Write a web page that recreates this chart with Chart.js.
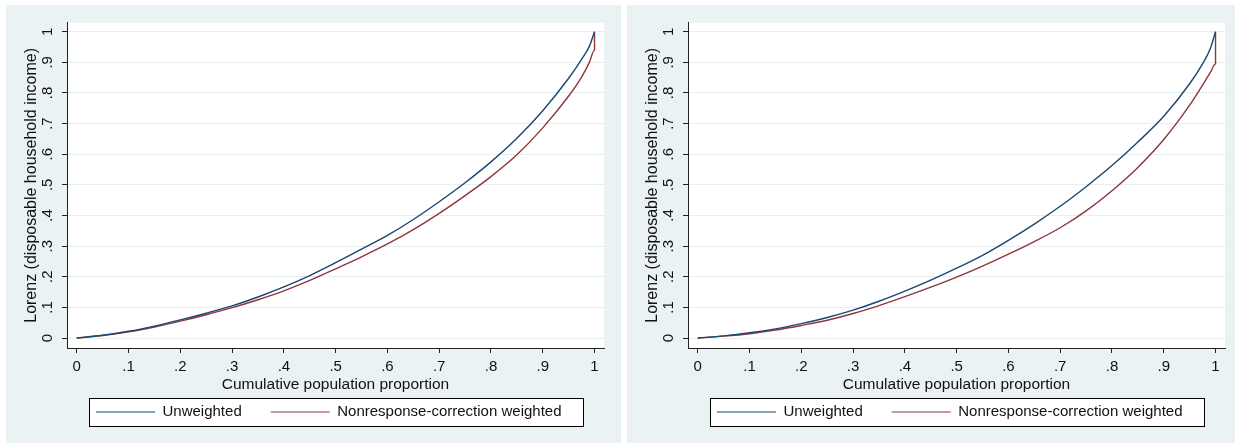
<!DOCTYPE html>
<html><head><meta charset="utf-8">
<script src="https://cdn.jsdelivr.net/npm/chart.js@4/dist/chart.umd.min.js"></script>
<style>
html,body{margin:0;padding:0;background:#fff;width:1235px;height:443px;overflow:hidden;}
.panel{position:absolute;top:5px;height:438px;background:#eaf2f3;}
#p1{left:6px;width:615px;}
#p2{left:627px;width:608px;}
canvas{display:block;}
</style></head><body>
<div class="panel" id="p1"><canvas id="c1" width="615" height="438"></canvas></div>
<div class="panel" id="p2"><canvas id="c2" width="608" height="438"></canvas></div>
<script>
// ---- data ----
const popShare = [0,0.05,0.1,0.15,0.2,0.25,0.3,0.35,0.4,0.45,0.5,0.55,0.6,0.65,0.7,0.75,0.8,0.85,0.9,0.95,0.975,0.99,1,1];
const leftUnweighted = [0,0.009,0.022,0.039,0.059,0.081,0.105,0.134,0.167,0.204,0.246,0.290,0.335,0.387,0.445,0.507,0.575,0.652,0.742,0.848,0.910,0.952,1,1];
const leftWeighted   = [0,0.008,0.020,0.036,0.055,0.076,0.099,0.125,0.154,0.188,0.226,0.265,0.307,0.354,0.407,0.465,0.527,0.598,0.686,0.790,0.852,0.900,0.940,1];
const rightUnweighted = [0,0.007,0.017,0.030,0.047,0.067,0.091,0.120,0.153,0.189,0.228,0.270,0.319,0.372,0.430,0.494,0.563,0.640,0.724,0.830,0.895,0.945,1,1];
const rightWeighted   = [0,0.006,0.014,0.026,0.041,0.058,0.080,0.106,0.135,0.166,0.199,0.235,0.274,0.315,0.360,0.415,0.481,0.557,0.648,0.760,0.826,0.867,0.895,1];
const seriesNames = ['Unweighted', 'Nonresponse-correction weighted'];
const tickValues = [0,0.1,0.2,0.3,0.4,0.5,0.6,0.7,0.8,0.9,1];
const tickLabels = ['0','.1','.2','.3','.4','.5','.6','.7','.8','.9','1'];
const xTitle = 'Cumulative population proportion';
const yTitle = 'Lorenz (disposable household income)';

// ---- styles ----
const BLUE = '#1a476f', RED = '#90353b', TXT = '#111', AXIS = '#222';
const FAM = "'Liberation Sans', Arial, sans-serif";
const LEG_PAD = 29;

function toPoints(xs, ys) {
  const pts = [];
  xs.forEach((x, i) => {
    const last = pts[pts.length - 1];
    if (last && last.x === x && last.y === ys[i]) return;
    pts.push({x: x, y: ys[i]});
  });
  return pts;
}

const plotBg = {
  id: 'plotBg',
  beforeDraw(chart) {
    const {ctx, chartArea: a} = chart;
    ctx.save();
    ctx.fillStyle = '#ffffff';
    ctx.fillRect(a.left, a.top, a.right - a.left, a.bottom - a.top);
    const lg = chart.legend;
    if (lg) {
      const cx = (a.left + a.right) / 2;
      const w = 494, h = 28;
      const y = Math.round(lg.top + LEG_PAD + 7.5 - h / 2) + 0.5;
      const x = Math.round(cx - w / 2) + 0.5;
      ctx.fillRect(x, y, w, h);
      ctx.strokeStyle = '#000';
      ctx.lineWidth = 1;
      ctx.strokeRect(x, y, w, h);
    }
    ctx.restore();
  }
};

function makeChart(id, blue, red, padRight) {
  const font = {family: FAM, size: 15};
  return new Chart(document.getElementById(id), {
    type: 'line',
    data: {
      datasets: [
        {label: seriesNames[0], data: toPoints(popShare, blue), borderColor: BLUE, backgroundColor: BLUE, borderWidth: 1.4, pointRadius: 0, fill: false, cubicInterpolationMode: 'monotone'},
        {label: seriesNames[1], data: toPoints(popShare, red), borderColor: RED, backgroundColor: RED, borderWidth: 1.4, pointRadius: 0, fill: false, cubicInterpolationMode: 'monotone'}
      ]
    },
    options: {
      responsive: false,
      animation: false,
      events: [],
      layout: {padding: {top: 17.7, right: padRight, bottom: 13.5, left: 0}},
      plugins: {
        tooltip: {enabled: false},
        legend: {
          display: true, position: 'bottom', fullSize: false, align: 'start',
          labels: {
            boxWidth: 59, boxHeight: 1, padding: LEG_PAD, color: TXT, font: font,
            generateLabels: (chart) => chart.data.datasets.map((d, i) => ({
              text: d.label, fillStyle: d.borderColor, strokeStyle: d.borderColor,
              lineWidth: 0, hidden: false, datasetIndex: i, fontColor: TXT
            }))
          }
        }
      },
      scales: {
        x: {
          type: 'linear', min: -0.0189, max: 1.0183,
          afterBuildTicks: (s) => { s.ticks = tickValues.map(v => ({value: v})); },
          afterFit: (s) => { s.height = 27.5; },
          ticks: {callback: (v, i) => tickLabels[i], font: font, color: TXT, padding: 5, maxRotation: 0, autoSkip: false},
          grid: {display: true, drawOnChartArea: false, drawTicks: true, tickLength: 5, tickColor: AXIS, tickWidth: 1},
          border: {display: true, color: AXIS, width: 1},
          title: {display: true, text: xTitle, color: TXT, font: {family: FAM, size: 15.5}, padding: {top: 0, bottom: -18.8}}
        },
        y: {
          type: 'linear', min: -0.0326, max: 1.0294,
          afterBuildTicks: (s) => { s.ticks = tickValues.map(v => ({value: v})); },
          afterFit: (s) => { s.width = 61; },
          ticks: {callback: (v, i) => tickLabels[i], font: font, color: TXT, padding: 8, minRotation: 90, maxRotation: 90, crossAlign: 'center', autoSkip: false},
          grid: {display: true, color: '#e6eef0', lineWidth: 1, drawTicks: true, tickLength: 5, tickColor: AXIS, tickWidth: 1},
          border: {display: true, color: AXIS, width: 1},
          title: {display: true, text: yTitle, color: TXT, font: {family: FAM, size: 16}, padding: {top: 15.9, bottom: 0}}
        }
      }
    },
    plugins: [plotBg]
  });
}

makeChart('c1', leftUnweighted, leftWeighted, 17);
makeChart('c2', rightUnweighted, rightWeighted, 10);
</script>
</body></html>
